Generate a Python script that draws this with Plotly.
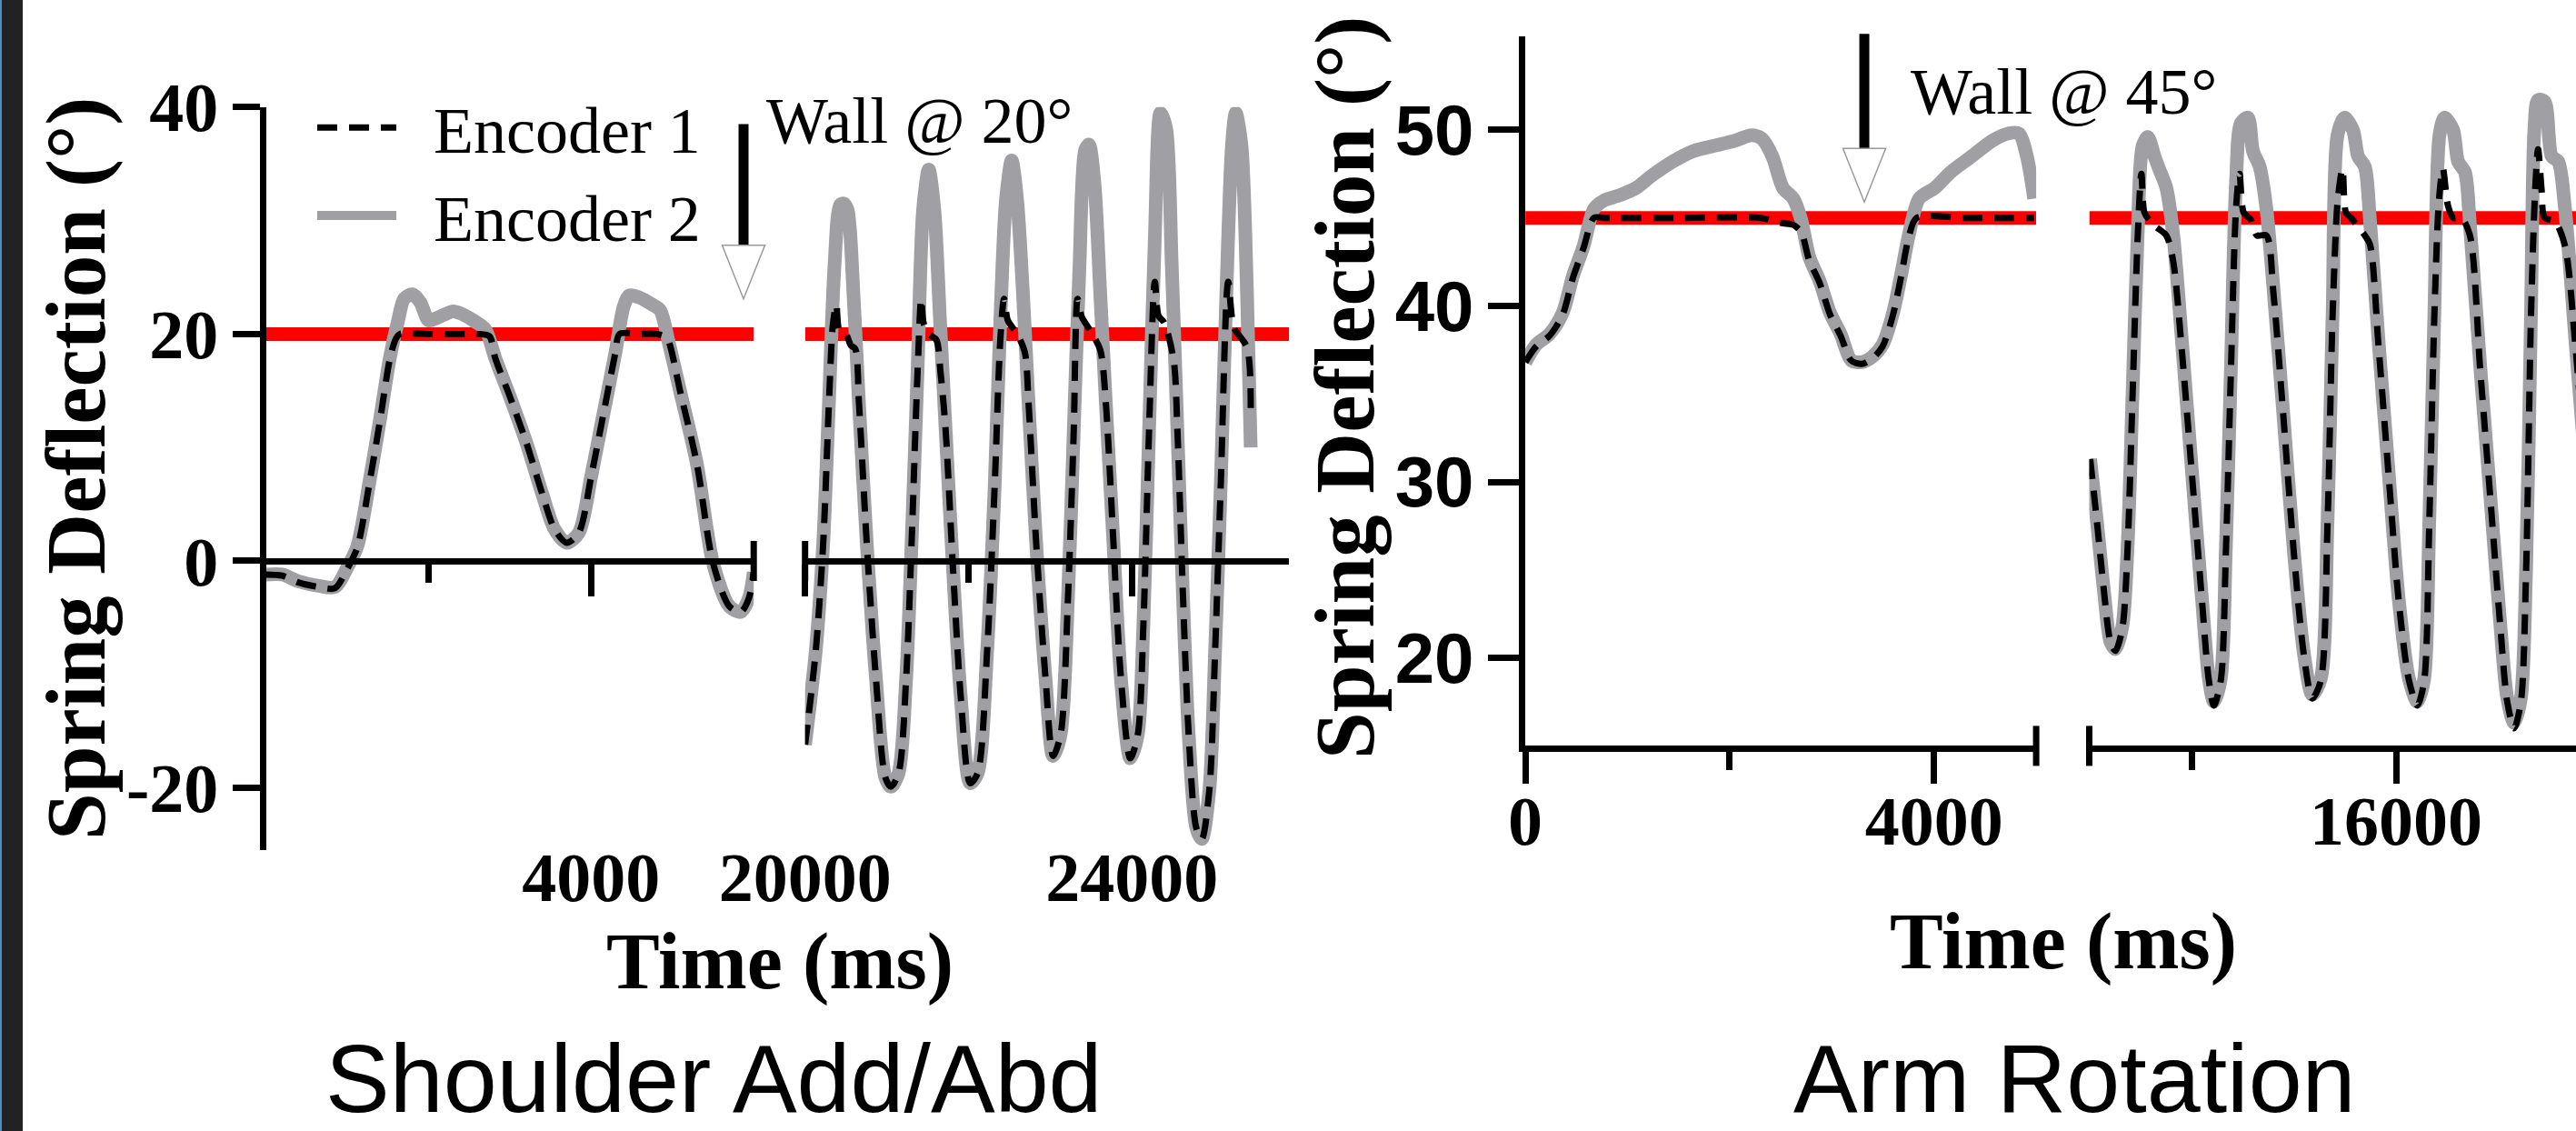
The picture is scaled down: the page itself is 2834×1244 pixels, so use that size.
import plotly.graph_objects as go

W, H = 2834, 1244
SERIF = "Liberation Serif, Times New Roman, serif"
SANS = "Liberation Sans, Arial, Helvetica, sans-serif"

# ---------------- data ----------------
# Shoulder Add/Abd -- first window (ms, deg)
SH_T1_E2 = [0, 200, 400, 650, 850, 1000, 1125, 1277, 1400, 1525, 1627, 1700, 1800, 1900, 2000, 2100, 2300, 2400, 2550, 2700,
            2820, 3000, 3200, 3400, 3550, 3700, 3850, 4000, 4150, 4300, 4400, 4470, 4600, 4750, 4850, 4950, 5100, 5300, 5500, 5700,
            5840, 5940, 6000]
SH_E2_1 = [-1.2, -1.2, -1.8, -2.2, -2.3, -0.6, 1.3, 7.1, 12.3, 17.9, 21.2, 23.1, 23.5, 22.8, 21.2, 21.4, 22.0, 21.8, 21.2, 20.4,
           17.9, 14.5, 10.5, 5.9, 2.8, 1.6, 2.5, 7.4, 12.9, 18.4, 22.4, 23.4, 23.2, 22.6, 22.1, 19.4, 14.8, 8.6, -0.2, -4.0,
           -4.5, -3.3, -1.0]
SH_T1_E1 = [0, 200, 400, 650, 850, 1000, 1125, 1277, 1400, 1525, 1600, 1650, 2000, 2400, 2600, 2750, 2820, 3000, 3200, 3400,
            3550, 3700, 3850, 4000, 4150, 4300, 4350, 4600, 4800, 4900, 4950, 5100, 5300, 5500, 5700, 5840, 5940, 6000]
SH_E1_1 = [-1.2, -1.3, -1.9, -2.3, -2.4, -0.7, 1.2, 7.0, 12.2, 17.8, 19.6, 20.0, 20.0, 20.0, 20.0, 19.8, 17.9, 14.5, 10.5, 5.9,
           2.8, 1.6, 2.5, 7.4, 12.9, 18.4, 20.0, 20.0, 20.0, 19.8, 19.4, 14.8, 8.6, -0.2, -4.0, -4.5, -3.3, -1.0]

# Shoulder Add/Abd -- second window
SH_T2_E2 = [20000, 20130, 20223, 20292, 20360, 20430, 20475, 20522, 20592, 20660,
            20753, 20868, 20983, 21052, 21145, 21237, 21305, 21375, 21444, 21514,
            21583, 21652, 21721, 21811, 21905, 22022, 22113, 22228, 22321, 22390,
            22459, 22529, 22596, 22667, 22736, 22828, 22944, 23036, 23128, 23219,
            23289, 23359, 23428, 23475, 23542, 23613, 23682, 23774, 23867, 23981,
            24073, 24142, 24211, 24281, 24350, 24420, 24489, 24558, 24626, 24696,
            24788, 24857, 24950, 25019, 25088, 25157, 25226, 25272, 25341, 25410, 25455]
SH_E2_2 = [-16.2, -8.0, 1.7, 13.9, 26.0, 31.4, 31.5, 30.9, 23.6, 13.9,
           1.8, -10.4, -19.1, -19.9, -18.7, -10.4, 1.8, 16.3, 30.9, 34.5,
           30.9, 21.2, 11.5, -0.7, -11.9, -19.6, -18.7, -8.0, 6.6, 21.2,
           31.8, 35.3, 31.8, 23.6, 13.9, 1.7, -10.4, -17.2, -15.3, -3.1,
           11.5, 26.0, 36.2, 36.7, 33.3, 23.6, 13.9, 1.7, -10.4, -17.4,
           -15.3, -5.5, 11.5, 28.4, 39.5, 38.1, 26.0, 11.5, -3.1, -15.3,
           -23.5, -24.5, -20.1, -8.0, 6.6, 23.6, 36.7, 39.5, 36.7, 23.6, 10.0]
SH_T2_E1 = [20000, 20130, 20223, 20292, 20340, 20383, 20420, 20500, 20560, 20614,
            20660, 20753, 20868, 20983, 21052, 21145, 21237, 21305, 21375, 21422,
            21450, 21514, 21606, 21660, 21721, 21811, 21905, 22022, 22113, 22228,
            22321, 22390, 22436, 22482, 22596, 22690, 22736, 22828, 22944, 23036,
            23128, 23219, 23289, 23336, 23382, 23498, 23613, 23682, 23774, 23867,
            23981, 24073, 24142, 24211, 24281, 24327, 24396, 24512, 24558, 24626,
            24696, 24788, 24857, 24950, 25019, 25088, 25180, 25249, 25410, 25455]
SH_E1_2 = [-16.2, -8.0, 1.7, 13.9, 20.8, 22.6, 20.3, 20.0, 19.0, 18.7,
           13.9, 1.8, -10.4, -19.1, -19.9, -18.7, -10.4, 1.8, 16.3, 23.1,
           21.0, 20.0, 19.5, 16.5, 11.5, -0.7, -11.9, -19.6, -18.7, -8.0,
           6.6, 19.5, 23.1, 21.2, 20.0, 18.4, 13.9, 1.7, -10.4, -17.2,
           -15.3, -3.1, 11.5, 23.1, 21.6, 20.2, 18.6, 13.9, 1.7, -10.4,
           -17.4, -15.3, -5.5, 11.5, 24.6, 21.6, 21.0, 17.7, 11.5, -3.1,
           -15.3, -23.5, -24.5, -20.1, -8.0, 6.6, 24.6, 20.6, 18.8, 13.0]

# Arm Rotation -- first window
AR_T1_E2 = [0, 107, 236, 365, 466, 570, 671, 775, 930, 1083,
            1237, 1442, 1647, 1852, 2058, 2213, 2316, 2418, 2522, 2623,
            2700, 2778, 2881, 2983, 3086, 3189, 3291, 3394, 3497, 3599,
            3676, 3753, 3855, 4008, 4163, 4369, 4575, 4729, 4830, 4909, 4980]
AR_E2_1 = [36.8, 37.8, 38.4, 39.6, 41.7, 43.4, 45.5, 46.0, 46.3, 46.7,
           47.4, 48.2, 48.8, 49.1, 49.4, 49.7, 49.5, 48.5, 46.7, 46.1,
           44.9, 42.8, 41.4, 39.6, 38.4, 36.9, 36.8, 37.1, 37.8, 39.6,
           41.7, 44.0, 46.1, 46.7, 47.6, 48.5, 49.4, 49.8, 49.8, 48.5, 46.1]
AR_T1_E1 = [0, 107, 236, 365, 466, 570, 671, 775, 1500, 2300,
            2450, 2522, 2623, 2700, 2778, 2881, 2983, 3086, 3189, 3291,
            3394, 3497, 3599, 3676, 3753, 3830, 4300, 4980]
AR_E1_1 = [36.8, 37.7, 38.3, 39.5, 41.6, 43.3, 45.0, 45.0, 45.0, 45.0,
           44.8, 44.7, 44.6, 44.2, 42.6, 41.3, 39.5, 38.3, 36.9, 36.7,
           37.0, 37.7, 39.5, 41.6, 43.9, 45.0, 45.0, 45.0]

# Arm Rotation -- second window
AR_T2_E2 = [13009, 13076, 13142, 13208, 13257, 13324, 13374, 13424, 13473, 13522,
            13573, 13638, 13689, 13754, 13822, 13905, 14003, 14103, 14170, 14219,
            14286, 14336, 14386, 14435, 14484, 14552, 14601, 14667, 14733, 14800,
            14900, 14999, 15098, 15181, 15264, 15330, 15380, 15428, 15496, 15579,
            15629, 15695, 15745, 15828, 15926, 16027, 16127, 16209, 16275, 16325,
            16375, 16425, 16474, 16558, 16607, 16674, 16723, 16823, 16922, 17021,
            17088, 17155, 17221, 17271, 17320, 17353, 17389, 17454, 17522, 17587, 17653, 17753, 17850]
AR_E2_2 = [31.3, 27.7, 23.9, 20.9, 20.5, 21.8, 26.2, 35.1, 44.0, 49.1,
           49.6, 48.5, 47.7, 46.7, 44.0, 38.1, 30.7, 23.3, 18.8, 17.5,
           18.8, 26.2, 36.6, 47.0, 50.4, 50.7, 48.8, 47.9, 45.5, 41.1,
           33.7, 26.2, 20.3, 17.9, 18.8, 27.7, 39.6, 49.7, 50.7, 50.0,
           48.5, 47.9, 44.9, 38.1, 30.7, 23.3, 18.8, 17.5, 18.8, 27.7,
           39.6, 49.7, 50.7, 50.0, 48.2, 47.6, 44.6, 36.6, 29.2, 21.8,
           17.7, 16.3, 17.7, 24.8, 39.6, 50.0, 51.7, 51.6, 48.5, 48.2, 45.5, 38.1, 31.0]
AR_T2_E1 = [13009, 13076, 13142, 13208, 13257, 13324, 13374, 13424, 13473, 13510,
            13540, 13600, 13650, 13754, 13822, 13905, 14003, 14103, 14170, 14219,
            14286, 14336, 14386, 14435, 14470, 14510, 14580, 14640, 14733, 14800,
            14900, 14999, 15098, 15181, 15264, 15330, 15380, 15430, 15477, 15510,
            15560, 15695, 15745, 15828, 15926, 16027, 16127, 16209, 16275, 16325,
            16375, 16420, 16458, 16508, 16560, 16640, 16723, 16823, 16922, 17021,
            17088, 17155, 17221, 17271, 17320, 17360, 17389, 17422, 17454, 17554, 17653, 17753, 17850]
AR_E1_2 = [31.3, 27.7, 23.9, 20.9, 20.4, 21.7, 26.1, 35.0, 43.8, 47.5,
           45.3, 44.8, 44.5, 44.0, 42.5, 37.5, 30.5, 23.2, 18.7, 17.3,
           18.7, 26.0, 36.4, 45.5, 47.5, 45.3, 44.9, 44.0, 44.0, 40.8,
           33.6, 26.1, 20.2, 17.7, 18.7, 27.6, 39.5, 46.0, 47.8, 45.3,
           45.0, 44.0, 43.5, 37.8, 30.5, 23.2, 18.7, 17.3, 18.7, 27.6,
           39.5, 46.0, 47.8, 45.7, 45.0, 45.0, 44.0, 36.4, 29.1, 21.7,
           17.5, 16.0, 17.5, 24.7, 39.5, 46.5, 48.9, 46.7, 45.0, 44.8, 43.4, 37.8, 30.8]

SH_WALL = 20
AR_WALL = 45
SH_YTICKS = [-20, 0, 20, 40]
SH_YTEXT = ["-20", "0", "20", "40"]
AR_YTICKS = [20, 30, 40, 50]
SH_X1_MAJOR, SH_X1_MINOR = [4000], [2000]
SH_X2_MAJOR, SH_X2_MINOR = [20000, 24000], [22000]
AR_X3_MAJOR, AR_X3_MINOR = [0, 4000], [2000]
AR_X4_MAJOR, AR_X4_MINOR = [16000], [14000]

# wall-contact arrows (time, top value, tip value)
SH_ARROW = (5875, 38.5, 23.1)
AR_ARROW = (3318, 55.46, 45.9)

# ---------------- geometry (pixels on the 2834x1244 canvas) ----------------
SH_Y_RANGE, SH_Y_PX = [-25.5, 40], [935.2, 117.8]
SH_X1_RANGE, SH_X1_PX = [0, 6000], [292.5, 829.2]
SH_X2_RANGE, SH_X2_PX = [20000, 25926], [885.7, 1418.3]
AR_Y_RANGE, AR_Y_PX = [15, 55.33], [820.4, 39.7]
AR_X3_RANGE, AR_X3_PX = [0, 5000], [1678.1, 2240.1]
AR_X4_RANGE, AR_X4_PX = [13000, 17760], [2298.5, 2834]


def fx(p):
    return p / W


def fy(p):
    return 1 - p / H


def to_px(v, rng, px):
    return px[0] + (v - rng[0]) / (rng[1] - rng[0]) * (px[1] - px[0])


SH_ZERO_PY = to_px(0, SH_Y_RANGE, SH_Y_PX)
AR_BASE_PY = AR_Y_PX[0]

GRAY = "#a0a0a4"
RED = "#ff0000"
E1_DASH = "22px,13px"
NB = "\u00a0\u00a0"

fig = go.Figure()

segments = [
    ("x", "y", SH_X1_RANGE, SH_WALL, SH_T1_E2, SH_E2_1, SH_T1_E1, SH_E1_1),
    ("x2", "y", SH_X2_RANGE, SH_WALL, SH_T2_E2, SH_E2_2, SH_T2_E1, SH_E1_2),
    ("x3", "y2", AR_X3_RANGE, AR_WALL, AR_T1_E2, AR_E2_1, AR_T1_E1, AR_E1_1),
    ("x4", "y2", AR_X4_RANGE, AR_WALL, AR_T2_E2, AR_E2_2, AR_T2_E1, AR_E1_2),
]

for i, (xa, ya, rng, wall, t2, e2, t1, e1) in enumerate(segments):
    fig.add_trace(go.Scatter(x=rng, y=[wall, wall], xaxis=xa, yaxis=ya, mode="lines",
                             line=dict(color=RED, width=15), showlegend=False, hoverinfo="skip"))
    fig.add_trace(go.Scatter(x=t2, y=e2, xaxis=xa, yaxis=ya, mode="lines", name=NB + "Encoder 2",
                             legendgroup="e2", showlegend=(i == 0), legendrank=2,
                             line=dict(color=GRAY, width=15, shape="spline", smoothing=0.8)))
    fig.add_trace(go.Scatter(x=t1, y=e1, xaxis=xa, yaxis=ya, mode="lines", name=NB + "Encoder 1",
                             legendgroup="e1", showlegend=(i == 0), legendrank=1,
                             line=dict(color="black", width=7, dash=E1_DASH, shape="spline", smoothing=0.8)))

AX = dict(showline=True, linewidth=7, linecolor="black", ticks="outside", tickwidth=7,
          tickcolor="black", showgrid=False, zeroline=False, fixedrange=True, automargin=False)
XTICKFONT = dict(family=SERIF, size=76, color="black", weight="bold")


def xaxis(px, rng, major, minor, anchor, position=None, standoff=0):
    d = dict(AX, domain=[fx(px[0]), fx(px[1])], range=rng, tickmode="array",
             tickvals=major, ticktext=[str(v) for v in major], ticklen=35,
             tickfont=XTICKFONT, ticklabelstandoff=standoff,
             minor=dict(tickmode="array", tickvals=minor, ticks="outside", ticklen=20,
                        tickwidth=7, tickcolor="black", showgrid=False),
             anchor=anchor)
    if position is not None:
        d["position"] = position
    return d


zero_pos = fy(SH_ZERO_PY)

fig.update_layout(
    width=W, height=H, autosize=False,
    margin=dict(l=0, r=0, t=0, b=0, pad=0, autoexpand=False),
    paper_bgcolor="white", plot_bgcolor="rgba(0,0,0,0)",
    xaxis=xaxis(SH_X1_PX, SH_X1_RANGE, SH_X1_MAJOR, SH_X1_MINOR, "free", zero_pos, 244),
    xaxis2=xaxis(SH_X2_PX, SH_X2_RANGE, SH_X2_MAJOR, SH_X2_MINOR, "free", zero_pos, 244),
    xaxis3=xaxis(AR_X3_PX, AR_X3_RANGE, AR_X3_MAJOR, AR_X3_MINOR, "y2", None, -25),
    xaxis4=xaxis(AR_X4_PX, AR_X4_RANGE, AR_X4_MAJOR, AR_X4_MINOR, "y2", None, -25),
    yaxis=dict(AX, domain=[fy(SH_Y_PX[0]), fy(SH_Y_PX[1])], range=SH_Y_RANGE, anchor="x",
               tickmode="array", tickvals=SH_YTICKS, ticktext=SH_YTEXT, ticklen=30,
               tickfont=dict(family=SERIF, size=76, color="black", weight="bold")),
    yaxis2=dict(AX, domain=[fy(AR_Y_PX[0]), fy(AR_Y_PX[1])], range=AR_Y_RANGE, anchor="x3",
                tickmode="array", tickvals=AR_YTICKS, ticktext=[str(v) for v in AR_YTICKS], ticklen=34,
                tickfont=dict(family=SANS, size=78, color="black", weight="bold")),
    legend=dict(x=fx(344), y=fy(87), xanchor="left", yanchor="top", bgcolor="rgba(0,0,0,0)",
                font=dict(family=SERIF, size=72, color="black"), itemwidth=87, tracegroupgap=0),
    showlegend=True,
)

shapes = []
# dark strip at the left edge of the screenshot
shapes.append(dict(type="rect", xref="paper", yref="paper", x0=0, x1=fx(25), y0=0, y1=1,
                   fillcolor="#222222", line=dict(width=0), layer="below"))
shapes.append(dict(type="rect", xref="paper", yref="paper", x0=0, x1=fx(2), y0=0, y1=1,
                   fillcolor="#4f8fbf", line=dict(width=0), layer="below"))

# axis break marks
for bx, by in [(SH_X1_PX[1], SH_ZERO_PY), (SH_X2_PX[0], SH_ZERO_PY),
               (AR_X3_PX[1], AR_BASE_PY), (AR_X4_PX[0], AR_BASE_PY)]:
    shapes.append(dict(type="line", xref="paper", yref="paper", x0=fx(bx), x1=fx(bx),
                       y0=fy(by - 22), y1=fy(by + 22), line=dict(color="black", width=7)))

# arrows
for (t, top, tip), xr, xp, yr, yp in [(SH_ARROW, SH_X1_RANGE, SH_X1_PX, SH_Y_RANGE, SH_Y_PX),
                                       (AR_ARROW, AR_X3_RANGE, AR_X3_PX, AR_Y_RANGE, AR_Y_PX)]:
    ax_px = to_px(t, xr, xp)
    top_py = to_px(top, yr, yp)
    tip_py = to_px(tip, yr, yp)
    tri_top = tip_py - 59
    shapes.append(dict(type="line", xref="paper", yref="paper", x0=fx(ax_px), x1=fx(ax_px),
                       y0=fy(top_py), y1=fy(tri_top + 4), line=dict(color="black", width=11)))
    path = "M{:.5f},{:.5f} L{:.5f},{:.5f} L{:.5f},{:.5f} Z".format(
        fx(ax_px - 23.5), fy(tri_top), fx(ax_px + 23.5), fy(tri_top), fx(ax_px), fy(tip_py))
    shapes.append(dict(type="path", xref="paper", yref="paper", path=path,
                       fillcolor="white", line=dict(color="#9a9a9a", width=1.5)))

fig.update_layout(shapes=shapes)

ann = []
ann.append(dict(text="Wall @ 20°", x=fx(841), y=fy(133), xanchor="left", yanchor="middle",
                font=dict(family=SERIF, size=72, color="black")))
ann.append(dict(text="Wall @ 45°", x=fx(2100), y=fy(101), xanchor="left", yanchor="middle",
                font=dict(family=SERIF, size=72, color="black")))
for x, y in [(83, 516), (1480, 427)]:
    ann.append(dict(text="Spring Deflection (°)", x=fx(x), y=fy(y), textangle=-90,
                    xanchor="center", yanchor="middle",
                    font=dict(family=SERIF, size=93, color="black", weight="bold")))
for x, y in [(858, 1057), (2270, 1035)]:
    ann.append(dict(text="Time (ms)", x=fx(x), y=fy(y), xanchor="center", yanchor="middle",
                    font=dict(family=SERIF, size=88, color="black", weight="bold")))
ann.append(dict(text="Shoulder Add/Abd", x=fx(785), y=fy(1186), xanchor="center", yanchor="middle",
                font=dict(family=SANS, size=106, color="black")))
ann.append(dict(text="Arm Rotation", x=fx(2282), y=fy(1186), xanchor="center", yanchor="middle",
                font=dict(family=SANS, size=106, color="black")))
for a in ann:
    a.update(xref="paper", yref="paper", showarrow=False)
fig.update_layout(annotations=ann)

fig.write_html("out.html", include_plotlyjs=True, full_html=True,
               config={"displayModeBar": False},
               post_script="document.body.style.margin='0';document.body.style.overflow='hidden';")
